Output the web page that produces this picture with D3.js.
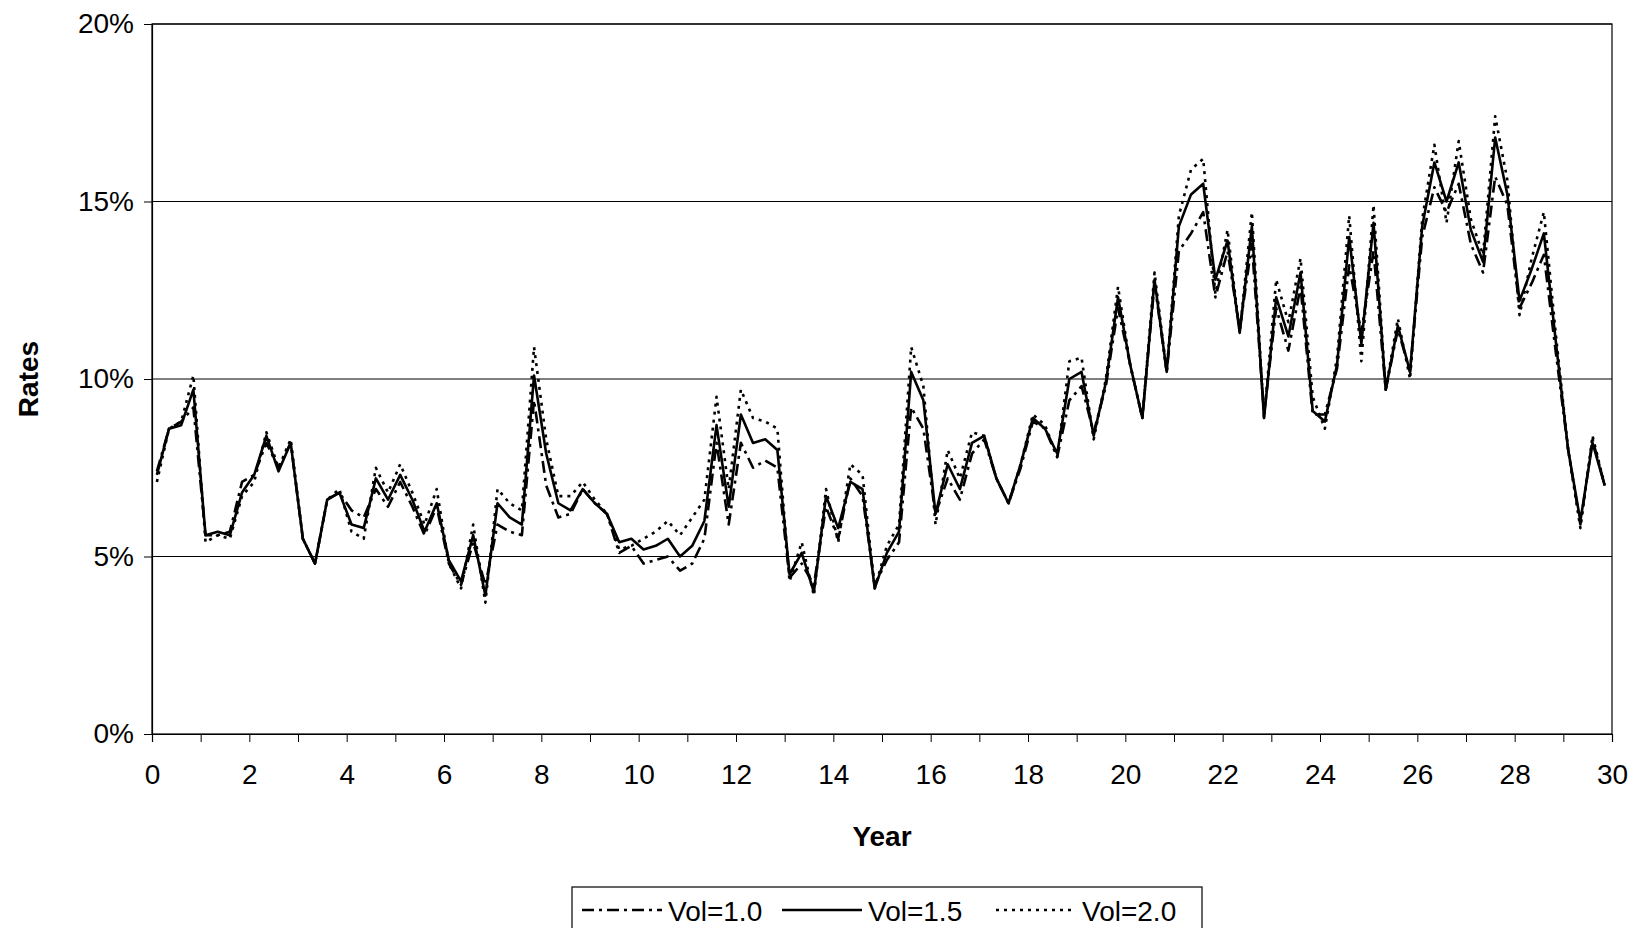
<!DOCTYPE html>
<html><head><meta charset="utf-8">
<script src="https://cdn.jsdelivr.net/npm/d3@7"></script>
<style>body{margin:0;background:#fff;} svg{display:block;font-family:"Liberation Sans",Arial,sans-serif;}</style>
</head><body><svg></svg>
<script>
const width = 1635, height = 928;

// quarterly observations, year 0 .. 29.75
const years = d3.range(120).map(i => i / 4);
const vol15 = [7.3,8.6,8.7,9.7,5.6,5.7,5.6,6.8,7.3,8.4,7.4,8.2,5.5,4.8,6.6,6.8,5.9,5.8,7.2,6.6,7.3,6.6,5.7,6.5,4.9,4.3,5.6,3.9,6.5,6.1,5.9,10.1,7.9,6.5,6.3,6.9,6.5,6.2,5.4,5.5,5.2,5.3,5.5,5.0,5.3,6.0,8.7,6.4,9.0,8.2,8.3,8.0,4.5,5.1,4.0,6.7,5.8,7.1,6.9,4.1,5.1,5.7,10.2,9.4,6.2,7.6,6.9,8.2,8.4,7.2,6.5,7.6,8.9,8.6,7.9,10.0,10.2,8.4,9.9,12.3,10.4,8.9,12.8,10.2,14.3,15.2,15.5,12.8,13.9,11.3,14.3,8.9,12.3,11.2,13.0,9.1,8.8,10.4,14.0,11.0,14.4,9.7,11.5,10.2,14.3,16.1,15.0,16.1,14.2,13.3,16.8,15.2,12.2,13.1,14.1,11.0,8.0,6.0,8.2,7.0];
const vol10 = [7.4,8.6,8.8,9.2,5.6,5.6,5.7,7.1,7.3,8.2,7.5,8.2,5.5,4.8,6.6,6.8,6.3,6.1,6.9,6.4,7.1,6.4,5.6,6.4,4.8,4.2,5.4,4.2,5.9,5.7,5.6,9.4,7.0,6.1,6.2,6.9,6.5,6.2,5.1,5.3,4.8,4.9,5.0,4.6,4.8,5.5,8.2,5.9,8.2,7.5,7.7,7.5,4.4,4.8,4.2,6.4,5.5,7.2,6.7,4.2,4.9,5.4,9.2,8.6,6.2,7.2,6.6,7.9,8.3,7.2,6.5,7.5,8.8,8.6,7.8,9.4,9.8,8.5,9.8,12.0,10.4,8.9,12.7,10.2,13.6,14.1,14.7,12.3,13.6,11.4,13.8,9.0,12.0,10.8,12.6,9.0,9.0,10.3,13.2,11.3,13.6,9.7,11.4,10.2,14.0,15.4,14.7,15.5,13.8,13.0,15.7,14.9,12.0,12.7,13.5,10.7,8.0,5.9,8.3,7.0];
const vol20 = [7.1,8.6,8.8,10.1,5.4,5.6,5.5,6.7,7.1,8.5,7.5,8.3,5.5,4.8,6.6,6.9,5.7,5.5,7.5,6.8,7.6,6.8,5.9,6.9,4.8,4.1,5.9,3.7,6.9,6.5,6.3,10.9,8.3,6.7,6.7,7.1,6.6,6.2,5.2,5.3,5.5,5.7,6.0,5.6,6.1,6.6,9.5,6.9,9.7,8.9,8.8,8.6,4.3,5.4,3.9,6.9,5.4,7.6,7.3,4.1,5.3,5.9,10.9,9.8,5.9,8.0,7.2,8.5,8.4,7.2,6.5,7.6,9.0,8.7,7.8,10.5,10.6,8.3,10.0,12.6,10.4,8.9,13.0,10.2,14.6,15.9,16.2,12.4,14.2,11.3,14.7,8.9,12.8,11.6,13.4,9.5,8.6,10.6,14.6,10.5,14.9,9.7,11.7,10.0,14.5,16.6,14.4,16.7,14.5,13.5,17.4,15.6,11.8,13.4,14.7,11.2,8.0,5.8,8.4,7.0];

const seriesNames = ["Vol=1.0", "Vol=1.5", "Vol=2.0"];
const seriesValues = [vol10, vol15, vol20];
const seriesDash = ["12,5,3,5", "", "3,5"];

const yTicks = [0, 5, 10, 15, 20];

const svg = d3.select("svg").attr("width", width).attr("height", height);

const plotL = 152, plotR = 1612, plotT = 24, plotB = 734;
const x = d3.scaleLinear().domain([0, 30]).range([plotL, plotR]);
const y = d3.scaleLinear().domain([0, 20]).range([plotB, plotT]);

// horizontal gridlines
svg.append("g").selectAll("line")
  .data(yTicks.slice(1))
  .enter().append("line")
  .attr("x1", plotL).attr("x2", plotR)
  .attr("y1", d => y(d)).attr("y2", d => y(d))
  .attr("stroke", "#000").attr("stroke-width", 1.2);

// y axis
const yAxis = svg.append("g")
  .attr("transform", `translate(${plotL},0)`)
  .call(d3.axisLeft(y).tickValues(yTicks).tickFormat(d => d + "%").tickSize(8).tickPadding(10));
yAxis.select(".domain").attr("stroke-width", 1.2);
yAxis.selectAll("text").attr("font-size", 28).attr("fill", "#000");

// x axis: tick every year, labels every 2
const xAxis = svg.append("g")
  .attr("transform", `translate(0,${plotB})`)
  .call(d3.axisBottom(x).tickValues(d3.range(0, 31)).tickFormat(d => d % 2 === 0 ? d : "").tickSize(8).tickPadding(22));
xAxis.select(".domain").attr("stroke-width", 1.2);
xAxis.selectAll("text").attr("font-size", 28).attr("fill", "#000");

// top & right border
svg.append("rect")
  .attr("x", plotL).attr("y", plotT)
  .attr("width", plotR - plotL).attr("height", plotB - plotT)
  .attr("fill", "none").attr("stroke", "#000").attr("stroke-width", 1.2);

const line = d3.line()
  .x((d, i) => x(years[i] + 0.1))
  .y(d => y(d));

svg.append("g").selectAll("path")
  .data(seriesValues)
  .enter().append("path")
  .attr("d", d => line(d))
  .attr("fill", "none")
  .attr("stroke", "#000")
  .attr("stroke-width", 2.6)
  .attr("stroke-linejoin", "round")
  .attr("stroke-dasharray", (d, i) => seriesDash[i]);

svg.append("text")
  .attr("x", (plotL + plotR) / 2).attr("y", 846)
  .attr("text-anchor", "middle")
  .attr("font-size", 28).attr("font-weight", "bold")
  .text("Year");

svg.append("text")
  .attr("transform", `translate(38,${(plotT + plotB) / 2}) rotate(-90)`)
  .attr("text-anchor", "middle")
  .attr("font-size", 28).attr("font-weight", "bold")
  .text("Rates");

// legend
const legend = svg.append("g");
legend.append("rect")
  .attr("x", 572).attr("y", 887)
  .attr("width", 630).attr("height", 50)
  .attr("fill", "#fff").attr("stroke", "#000").attr("stroke-width", 1.2);

const legendX = [582, 782, 996];
seriesNames.forEach((name, i) => {
  legend.append("line")
    .attr("x1", legendX[i]).attr("x2", legendX[i] + 80)
    .attr("y1", 910).attr("y2", 910)
    .attr("stroke", "#000").attr("stroke-width", 2.6)
    .attr("stroke-dasharray", seriesDash[i]);
  legend.append("text")
    .attr("x", legendX[i] + 86).attr("y", 921)
    .attr("font-size", 28)
    .text(name);
});
</script>
</body></html>
